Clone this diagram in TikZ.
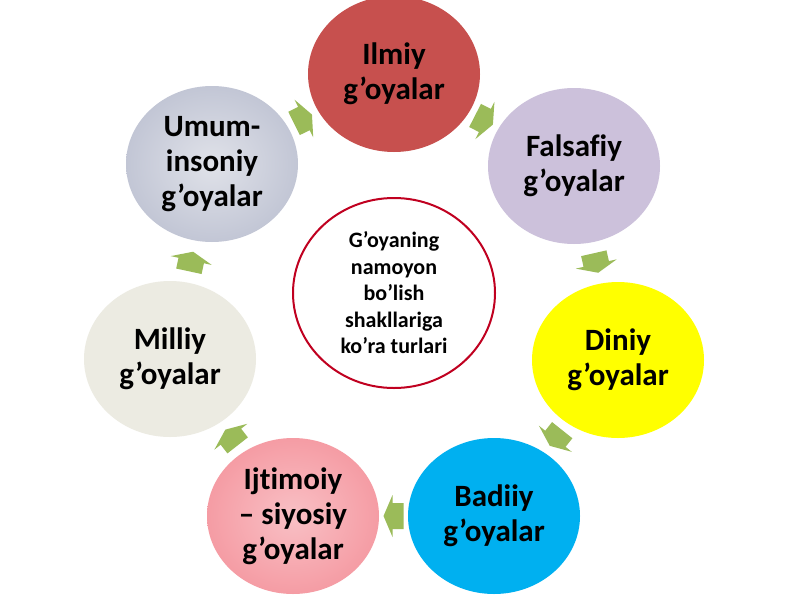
\documentclass[tikz,border=0pt]{standalone}
\usepackage{fontspec}
\setmainfont{Carlito}[Ligatures=CommonOff]
\usetikzlibrary{shapes.geometric,calc}
\definecolor{cIlmiy}{RGB}{199,80,78}
\definecolor{cFals}{RGB}{204,193,219}
\definecolor{cDiniy}{RGB}{255,255,0}
\definecolor{cBadiiy}{RGB}{0,176,240}
\definecolor{cIjt}{RGB}{245,156,164}
\definecolor{cIjtIn}{RGB}{249,192,197}
\definecolor{cMilliy}{RGB}{236,235,226}
\definecolor{cUmum}{RGB}{194,198,213}
\definecolor{cUmumIn}{RGB}{224,226,233}
\definecolor{cRing}{RGB}{192,0,32}
\definecolor{cArrow}{RGB}{155,187,89}
\newcommand\cyclearrow[2]{%
  \path let \p1=($(#2)-(#1)$), \n1={atan2(\y1,\x1)} in
    ($(#1)!0.5!(#2)$) pic[rotate=\n1]{blockarrow};}
\begin{document}
\begin{tikzpicture}[x=1pt,y=-1pt,
  bub/.style={ellipse, minimum width=172pt, minimum height=156pt, inner sep=0pt,
    align=center, text=black, font=\fontsize{31}{35}\selectfont\bfseries},
  hub/.style={ellipse, draw=cRing, line width=2pt, fill=white,
    minimum width=202pt, minimum height=190pt, inner sep=0pt,
    align=center, font=\fontsize{22}{26.5}\selectfont\bfseries},
  blockarrow/.pic={\fill[cArrow] (10,0) -- (1,-21) -- (1,-13) -- (-10,-13)
     -- (-10,13) -- (1,13) -- (1,21) -- cycle;}]
\fill[white] (0,0) rectangle (800,600);
\useasboundingbox (0,0) rectangle (800,600);
\node[bub, fill=cIlmiy] (ilmiy) at (394,74) {Ilmiy\\g’oyalar};
\node[bub, fill=cFals] (fals) at (574,166) {Falsafiy\\g’oyalar};
\node[bub, fill=cDiniy] (diniy) at (618,360) {Diniy\\g’oyalar};
\node[bub, fill=cBadiiy] (badiiy) at (494,516) {Badiiy\\g’oyalar};
\node[bub, inner color=cIjtIn, outer color=cIjt] (ijt) at (293,516) {Ijtimoiy\\– siyosiy\\g’oyalar};
\node[bub, fill=cMilliy] (milliy) at (170,359) {Milliy\\g’oyalar};
\node[bub, inner color=cUmumIn, outer color=cUmum] (umum) at (212,164) {Umum-\\insoniy\\g’oyalar};
\node[hub] (hub) at (394,293) {G’oyaning\\namoyon\\bo’lish\\shakllariga\\ko’ra turlari};
\cyclearrow{ilmiy}{fals}
\cyclearrow{fals}{diniy}
\cyclearrow{diniy}{badiiy}
\cyclearrow{badiiy}{ijt}
\cyclearrow{ijt}{milliy}
\cyclearrow{milliy}{umum}
\cyclearrow{umum}{ilmiy}
\end{tikzpicture}
\end{document}
